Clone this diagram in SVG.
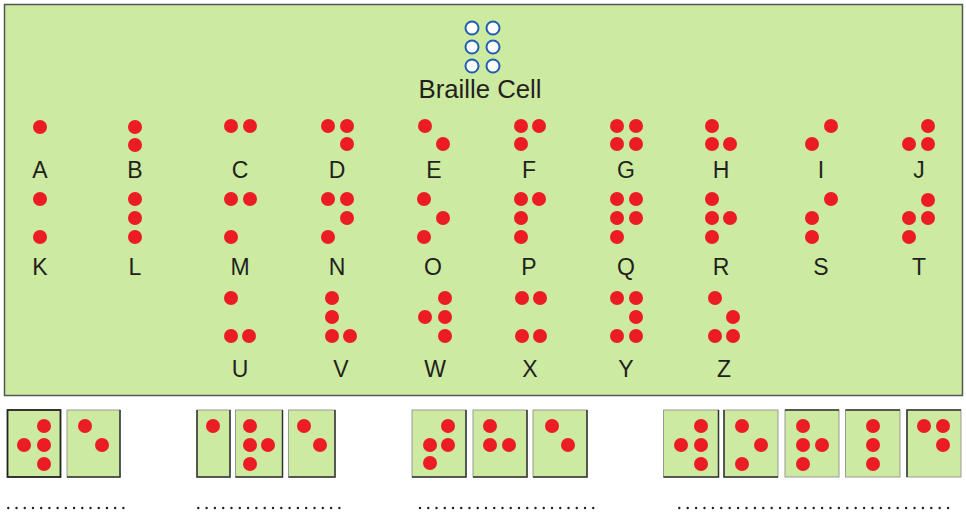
<svg xmlns="http://www.w3.org/2000/svg" width="966" height="513" viewBox="0 0 966 513">
<style>
.panel{fill:#cceaa0;stroke:#555;stroke-width:1.5}
.d{fill:#ec1c24}
.o{fill:#fff;stroke:#1f5fb0;stroke-width:2}
.t{font-family:"Liberation Sans",Arial,sans-serif;font-size:23px;fill:#231f20;text-anchor:middle}
.box{fill:#cceaa0;stroke:#999;stroke-width:1}
.box1{fill:#cceaa0;stroke:#222;stroke-width:1.8}
.sh{stroke:#333;stroke-width:1.5;fill:none}
.dots{stroke:#231f20;stroke-width:2.4;stroke-linecap:round;fill:none}
</style>
<rect class="panel" x="4.5" y="4.5" width="958" height="391"/>
<g id="braille-cell">
<circle class="o" cx="472" cy="28" r="6.5"/><circle class="o" cx="493" cy="28" r="6.5"/>
<circle class="o" cx="472" cy="47" r="6.5"/><circle class="o" cx="493" cy="47" r="6.5"/>
<circle class="o" cx="472" cy="66" r="6.5"/><circle class="o" cx="493" cy="66" r="6.5"/>
<text class="t" x="480" y="98" style="font-size:25px" textLength="123" lengthAdjust="spacingAndGlyphs">Braille Cell</text>
</g>
<g id="A"><circle class="d" cx="40" cy="127" r="7"/><text class="t" x="40" y="178">A</text></g>
<g id="B"><circle class="d" cx="135" cy="127" r="7"/><circle class="d" cx="135" cy="145" r="7"/><text class="t" x="135" y="178">B</text></g>
<g id="C"><circle class="d" cx="231" cy="126" r="7"/><circle class="d" cx="250" cy="126" r="7"/><text class="t" x="240" y="178">C</text></g>
<g id="D"><circle class="d" cx="328" cy="126" r="7"/><circle class="d" cx="347" cy="126" r="7"/><circle class="d" cx="347" cy="144" r="7"/><text class="t" x="337" y="178">D</text></g>
<g id="E"><circle class="d" cx="425" cy="126" r="7"/><circle class="d" cx="443" cy="144" r="7"/><text class="t" x="434" y="178">E</text></g>
<g id="F"><circle class="d" cx="521" cy="126" r="7"/><circle class="d" cx="539" cy="126" r="7"/><circle class="d" cx="521" cy="144" r="7"/><text class="t" x="529" y="178">F</text></g>
<g id="G"><circle class="d" cx="617" cy="126" r="7"/><circle class="d" cx="636" cy="126" r="7"/><circle class="d" cx="617" cy="144" r="7"/><circle class="d" cx="636" cy="144" r="7"/><text class="t" x="626" y="178">G</text></g>
<g id="H"><circle class="d" cx="712" cy="126" r="7"/><circle class="d" cx="712" cy="144" r="7"/><circle class="d" cx="730" cy="144" r="7"/><text class="t" x="721" y="178">H</text></g>
<g id="I"><circle class="d" cx="831" cy="126" r="7"/><circle class="d" cx="812" cy="144" r="7"/><text class="t" x="821" y="178">I</text></g>
<g id="J"><circle class="d" cx="928" cy="126" r="7"/><circle class="d" cx="909" cy="144" r="7"/><circle class="d" cx="928" cy="144" r="7"/><text class="t" x="919" y="178">J</text></g>
<g id="K"><circle class="d" cx="40" cy="199" r="7"/><circle class="d" cx="40" cy="237" r="7"/><text class="t" x="40" y="275">K</text></g>
<g id="L"><circle class="d" cx="135" cy="199" r="7"/><circle class="d" cx="135" cy="218" r="7"/><circle class="d" cx="135" cy="237" r="7"/><text class="t" x="135" y="275">L</text></g>
<g id="M"><circle class="d" cx="231" cy="199" r="7"/><circle class="d" cx="250" cy="199" r="7"/><circle class="d" cx="231" cy="237" r="7"/><text class="t" x="240" y="275">M</text></g>
<g id="N"><circle class="d" cx="328" cy="199" r="7"/><circle class="d" cx="347" cy="199" r="7"/><circle class="d" cx="347" cy="218" r="7"/><circle class="d" cx="328" cy="237" r="7"/><text class="t" x="337" y="275">N</text></g>
<g id="O"><circle class="d" cx="424" cy="199" r="7"/><circle class="d" cx="443" cy="218" r="7"/><circle class="d" cx="424" cy="237" r="7"/><text class="t" x="433" y="275">O</text></g>
<g id="P"><circle class="d" cx="521" cy="199" r="7"/><circle class="d" cx="539" cy="199" r="7"/><circle class="d" cx="521" cy="218" r="7"/><circle class="d" cx="521" cy="237" r="7"/><text class="t" x="529" y="275">P</text></g>
<g id="Q"><circle class="d" cx="617" cy="199" r="7"/><circle class="d" cx="636" cy="199" r="7"/><circle class="d" cx="617" cy="218" r="7"/><circle class="d" cx="636" cy="218" r="7"/><circle class="d" cx="617" cy="237" r="7"/><text class="t" x="626" y="275">Q</text></g>
<g id="R"><circle class="d" cx="712" cy="199" r="7"/><circle class="d" cx="712" cy="218" r="7"/><circle class="d" cx="730" cy="218" r="7"/><circle class="d" cx="712" cy="237" r="7"/><text class="t" x="721" y="275">R</text></g>
<g id="S"><circle class="d" cx="831" cy="199" r="7"/><circle class="d" cx="812" cy="218" r="7"/><circle class="d" cx="812" cy="237" r="7"/><text class="t" x="821" y="275">S</text></g>
<g id="T"><circle class="d" cx="928" cy="200" r="7"/><circle class="d" cx="909" cy="218" r="7"/><circle class="d" cx="928" cy="218" r="7"/><circle class="d" cx="909" cy="237" r="7"/><text class="t" x="919" y="275">T</text></g>
<g id="U"><circle class="d" cx="231" cy="298" r="7"/><circle class="d" cx="231" cy="336" r="7"/><circle class="d" cx="249" cy="336" r="7"/><text class="t" x="240" y="377">U</text></g>
<g id="V"><circle class="d" cx="332" cy="298" r="7"/><circle class="d" cx="332" cy="317" r="7"/><circle class="d" cx="332" cy="336" r="7"/><circle class="d" cx="350" cy="336" r="7"/><text class="t" x="341" y="377">V</text></g>
<g id="W"><circle class="d" cx="445" cy="298" r="7"/><circle class="d" cx="425" cy="317" r="7"/><circle class="d" cx="445" cy="317" r="7"/><circle class="d" cx="445" cy="336" r="7"/><text class="t" x="435" y="377">W</text></g>
<g id="X"><circle class="d" cx="522" cy="298" r="7"/><circle class="d" cx="540" cy="298" r="7"/><circle class="d" cx="522" cy="336" r="7"/><circle class="d" cx="540" cy="336" r="7"/><text class="t" x="530" y="377">X</text></g>
<g id="Y"><circle class="d" cx="617" cy="298" r="7"/><circle class="d" cx="636" cy="298" r="7"/><circle class="d" cx="636" cy="317" r="7"/><circle class="d" cx="617" cy="336" r="7"/><circle class="d" cx="636" cy="336" r="7"/><text class="t" x="626" y="377">Y</text></g>
<g id="Z"><circle class="d" cx="715" cy="298" r="7"/><circle class="d" cx="733" cy="317" r="7"/><circle class="d" cx="715" cy="336" r="7"/><circle class="d" cx="733" cy="336" r="7"/><text class="t" x="724" y="377">Z</text></g>

<g id="word-we">
<g id="box1"><rect class="box1" x="7.5" y="410" width="53" height="67"/><circle class="d" cx="44" cy="426" r="7"/><circle class="d" cx="24" cy="445" r="7"/><circle class="d" cx="44" cy="445" r="7"/><circle class="d" cx="44" cy="464" r="7"/></g>
<g id="box2"><rect class="box" x="67" y="410" width="53" height="67"/><path class="sh" d="M67,477H120V410"/><circle class="d" cx="85" cy="426" r="7"/><circle class="d" cx="102" cy="445" r="7"/></g>
</g>
<g id="word-are">
<g id="box3"><rect class="box" x="197" y="410" width="33" height="67"/><path class="sh" d="M197,410V477H230V410"/><circle class="d" cx="213" cy="426" r="7"/></g>
<g id="box4"><rect class="box" x="235.5" y="410" width="47" height="67"/><path class="sh" d="M235.5,477H282.5V410"/><circle class="d" cx="250" cy="426" r="7"/><circle class="d" cx="250" cy="445" r="7"/><circle class="d" cx="268" cy="445" r="7"/><circle class="d" cx="250" cy="464" r="7"/></g>
<g id="box5"><rect class="box" x="288.5" y="410" width="46.5" height="67"/><path class="sh" d="M288.5,477H335V410"/><circle class="d" cx="304" cy="426" r="7"/><circle class="d" cx="320" cy="445" r="7"/></g>
</g>
<g id="word-the">
<g id="box6"><rect class="box" x="412" y="410" width="54" height="67"/><path class="sh" d="M412,477H466V410"/><circle class="d" cx="448" cy="426" r="7"/><circle class="d" cx="430" cy="445" r="7"/><circle class="d" cx="448" cy="445" r="7"/><circle class="d" cx="430" cy="463" r="7"/></g>
<g id="box7"><rect class="box" x="473" y="410" width="54" height="67"/><path class="sh" d="M473,477H527V410"/><circle class="d" cx="490" cy="426" r="7"/><circle class="d" cx="490" cy="445" r="7"/><circle class="d" cx="509" cy="445" r="7"/></g>
<g id="box8"><rect class="box" x="533" y="410" width="54" height="67"/><path class="sh" d="M533,477H587V410"/><circle class="d" cx="552" cy="426" r="7"/><circle class="d" cx="568" cy="445" r="7"/></g>
</g>
<g id="word-world">
<g id="box9"><rect class="box" x="663.5" y="410" width="55" height="67"/><path class="sh" d="M663.5,477H718.5V410"/><circle class="d" cx="701" cy="426" r="7"/><circle class="d" cx="681" cy="445" r="7"/><circle class="d" cx="701" cy="445" r="7"/><circle class="d" cx="701" cy="464" r="7"/></g>
<g id="box10"><rect class="box" x="724" y="410" width="54" height="67"/><path class="sh" d="M724,410V477H778"/><circle class="d" cx="742" cy="426" r="7"/><circle class="d" cx="761" cy="445" r="7"/><circle class="d" cx="742" cy="464" r="7"/></g>
<g id="box11"><rect class="box" x="785" y="410" width="54" height="67"/><path class="sh" d="M785,410H839"/><circle class="d" cx="803" cy="426" r="7"/><circle class="d" cx="803" cy="445" r="7"/><circle class="d" cx="822" cy="445" r="7"/><circle class="d" cx="803" cy="464" r="7"/></g>
<g id="box12"><rect class="box" x="845.5" y="410" width="54.5" height="67"/><path class="sh" d="M845.5,410H900"/><circle class="d" cx="873" cy="426" r="7"/><circle class="d" cx="873" cy="445" r="7"/><circle class="d" cx="873" cy="464" r="7"/></g>
<g id="box13"><rect class="box" x="907" y="410" width="54" height="67"/><path class="sh" d="M907,477V410H961"/><circle class="d" cx="924" cy="426" r="7"/><circle class="d" cx="943" cy="426" r="7"/><circle class="d" cx="943" cy="445" r="7"/></g>
</g>
<g id="connectors"></g>
<g id="blanks">
<line class="dots" style="stroke-dasharray:0 8.22" x1="8.3" y1="508" x2="124" y2="508"/>
<line class="dots" style="stroke-dasharray:0 8.3" x1="198.3" y1="508" x2="340" y2="508"/>
<line class="dots" style="stroke-dasharray:0 8.25" x1="420" y1="508" x2="594" y2="508"/>
<line class="dots" style="stroke-dasharray:0 8.4" x1="679.3" y1="508" x2="949" y2="508"/>
</g>
</svg>
